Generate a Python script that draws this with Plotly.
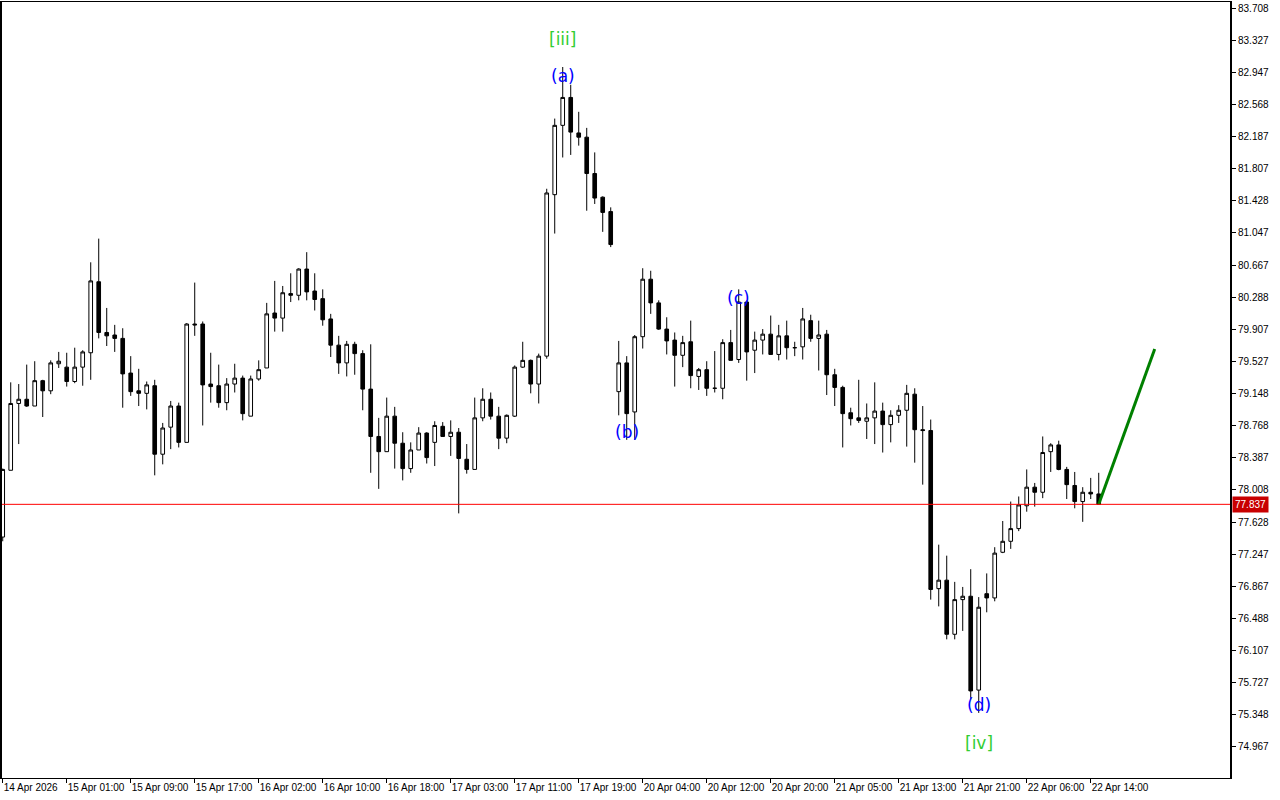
import plotly.graph_objects as go

# Hourly bars (index 0..137)
opens = [77.45, 78.24, 79.03, 79.08, 79.00, 79.30, 79.18, 79.50, 79.46, 79.29,
         79.46, 79.63, 80.47, 79.87, 79.84, 79.80, 79.39, 79.18, 79.15, 79.24,
         78.43, 78.75, 79.00, 78.57, 79.97, 79.97, 79.26, 79.24, 79.04, 79.26,
         79.33, 78.88, 79.32, 79.45, 80.10, 80.04, 80.33, 80.31, 80.62, 80.36,
         80.27, 80.03, 79.72, 79.51, 79.73, 79.62, 79.20, 78.64, 78.46, 78.88,
         78.56, 78.26, 78.48, 78.68, 78.57, 78.76, 78.64, 78.69, 78.37, 78.25,
         78.86, 79.08, 78.88, 78.62, 78.88, 79.46, 79.54, 79.26, 79.59, 81.50,
         82.32, 82.65, 82.23, 82.18, 81.75, 81.47, 81.30, 79.17, 79.51, 78.93,
         79.82, 80.50, 80.22, 79.91, 79.78, 79.60, 79.76, 79.35, 79.43, 79.21,
         79.21, 79.75, 79.55, 80.23, 79.66, 79.78, 79.85, 79.61, 79.83, 79.69,
         79.70, 80.01, 79.80, 79.85, 79.37, 79.22, 78.92, 78.86, 78.82, 78.86,
         78.94, 78.78, 78.89, 78.95, 79.14, 78.72, 78.71, 76.84, 76.94, 76.30,
         76.71, 76.75, 75.64, 76.78, 76.73, 77.27, 77.40, 77.55, 77.82, 78.04,
         77.98, 78.46, 78.54, 78.25, 78.06, 77.87, 77.98, 77.96]
highs = [78.26, 79.28, 79.26, 79.49, 79.53, 79.31, 79.54, 79.64, 79.63, 79.69,
         79.66, 80.70, 80.98, 80.16, 79.96, 79.92, 79.59, 79.44, 79.29, 79.31,
         78.80, 79.06, 79.04, 79.98, 80.46, 80.00, 79.63, 79.49, 79.33, 79.50,
         79.36, 79.36, 79.54, 80.22, 80.48, 80.42, 80.57, 80.63, 80.82, 80.57,
         80.38, 80.09, 79.83, 79.77, 79.76, 79.66, 79.73, 78.86, 79.10, 78.99,
         78.69, 78.57, 78.75, 78.69, 78.82, 78.81, 78.83, 78.74, 78.55, 79.10,
         79.21, 79.16, 78.99, 78.90, 79.48, 79.76, 79.55, 79.62, 81.57, 82.40,
         83.01, 82.80, 82.48, 82.29, 82.00, 81.48, 81.35, 79.77, 79.59, 79.84,
         80.63, 80.60, 80.25, 80.05, 79.87, 79.83, 80.01, 79.45, 79.53, 79.65,
         79.79, 79.90, 80.38, 80.25, 79.88, 79.91, 80.07, 79.96, 80.01, 79.76,
         80.16, 80.08, 80.01, 79.90, 79.44, 79.24, 78.98, 79.31, 79.03, 79.28,
         79.04, 78.95, 79.01, 79.25, 79.21, 79.00, 78.84, 77.36, 77.23, 76.92,
         76.86, 77.07, 76.74, 77.02, 77.33, 77.64, 77.87, 77.93, 78.25, 78.09,
         78.64, 78.56, 78.59, 78.28, 78.22, 78.04, 78.15, 78.21]
lows = [77.40, 78.24, 78.55, 78.99, 79.00, 78.87, 79.14, 79.45, 79.23, 79.27,
        79.24, 79.31, 79.80, 79.71, 79.64, 78.98, 79.12, 79.00, 78.96, 78.18,
        78.31, 78.49, 78.51, 78.57, 79.83, 78.77, 79.04, 78.98, 78.95, 79.16,
        78.83, 78.88, 79.30, 79.45, 79.88, 79.88, 80.23, 80.25, 80.25, 80.13,
        79.95, 79.58, 79.38, 79.35, 79.37, 78.95, 78.21, 78.02, 78.46, 78.26,
        78.12, 78.21, 78.48, 78.32, 78.29, 78.64, 78.41, 77.73, 78.20, 78.25,
        78.82, 78.84, 78.49, 78.56, 78.87, 79.45, 79.15, 79.03, 79.56, 81.04,
        81.94, 81.97, 82.08, 81.31, 81.39, 81.06, 80.88, 78.89, 78.60, 78.60,
        79.68, 80.09, 79.90, 79.61, 79.23, 79.46, 79.21, 79.19, 79.12, 79.16,
        79.08, 79.54, 79.51, 79.30, 79.39, 79.61, 79.61, 79.54, 79.55, 79.59,
        79.55, 79.76, 79.42, 79.13, 79.00, 78.51, 78.77, 78.80, 78.61, 78.55,
        78.45, 78.57, 78.80, 78.52, 78.33, 78.07, 76.71, 76.63, 76.24, 76.24,
        76.34, 75.53, 75.37, 76.56, 76.69, 77.26, 77.31, 77.52, 77.75, 77.81,
        77.91, 78.22, 78.24, 77.90, 77.79, 77.63, 77.90, 77.837]
closes = [78.25, 79.03, 79.08, 79.00, 79.30, 79.18, 79.51, 79.53, 79.29, 79.46,
          79.64, 80.48, 79.87, 79.83, 79.80, 79.38, 79.17, 79.15, 79.25, 78.43,
          78.74, 79.00, 78.57, 79.97, 79.96, 79.25, 79.23, 79.04, 79.26, 79.33,
          78.91, 79.32, 79.43, 80.09, 80.04, 80.34, 80.31, 80.62, 80.35, 80.26,
          80.02, 79.72, 79.51, 79.73, 79.62, 79.20, 78.64, 78.46, 78.88, 78.56,
          78.26, 78.48, 78.68, 78.39, 78.77, 78.64, 78.69, 78.38, 78.25, 78.86,
          79.08, 78.88, 78.62, 78.89, 79.46, 79.54, 79.26, 79.59, 81.52, 82.32,
          82.65, 82.24, 82.18, 81.75, 81.46, 81.29, 80.91, 79.51, 78.91, 79.82,
          80.50, 80.22, 79.91, 79.77, 79.60, 79.75, 79.36, 79.43, 79.21, 79.21,
          79.75, 79.54, 80.23, 79.64, 79.78, 79.85, 79.61, 79.83, 79.69, 79.69,
          80.03, 79.80, 79.84, 79.37, 79.22, 78.91, 78.85, 78.83, 78.86, 78.94,
          78.78, 78.89, 78.95, 79.15, 78.72, 78.71, 76.83, 76.94, 76.30, 76.71,
          76.75, 75.63, 76.62, 76.73, 77.26, 77.40, 77.55, 77.83, 78.04, 77.98,
          78.45, 78.54, 78.25, 78.07, 77.87, 77.98, 77.96, 77.837]

bars = list(range(len(opens)))

x_tick_bars = [0, 8, 16, 24, 32, 40, 48, 56, 64, 72, 80, 88, 96, 104, 112, 120, 128, 136]
x_tick_labels = ["14 Apr 2026", "15 Apr 01:00", "15 Apr 09:00", "15 Apr 17:00",
                 "16 Apr 02:00", "16 Apr 10:00", "16 Apr 18:00", "17 Apr 03:00",
                 "17 Apr 11:00", "17 Apr 19:00", "20 Apr 04:00", "20 Apr 12:00",
                 "20 Apr 20:00", "21 Apr 05:00", "21 Apr 13:00", "21 Apr 21:00",
                 "22 Apr 06:00", "22 Apr 14:00"]
y_tick_labels = ["83.708", "83.327", "82.947", "82.568", "82.187", "81.807",
                 "81.428", "81.047", "80.667", "80.288", "79.907", "79.527",
                 "79.148", "78.768", "78.387", "78.008", "77.628", "77.247",
                 "76.867", "76.488", "76.107", "75.727", "75.348", "74.967"]
current_price = 77.837

# forecast line: from last close to target
forecast_bars = [137, 144]
forecast_prices = [77.837, 79.675]

# wave labels
wave_text = ["[iii]", "(a)", "(b)", "(c)", "(d)", "[iv]"]
wave_bar = [70, 70, 78, 92, 122, 122]
wave_price = [83.341, 82.904, 78.693, 80.278, 75.464, 75.014]
wave_color = ["#32cd32", "#0000ff", "#0000ff", "#0000ff", "#0000ff", "#32cd32"]

FONT = "Liberation Sans"

fig = go.Figure()
fig.add_trace(go.Candlestick(
    x=bars, open=opens, high=highs, low=lows, close=closes,
    increasing=dict(line=dict(color="black", width=1), fillcolor="white"),
    decreasing=dict(line=dict(color="black", width=1), fillcolor="black"),
    whiskerwidth=0, showlegend=False, hoverinfo="skip",
))
fig.add_trace(go.Scatter(
    x=forecast_bars, y=forecast_prices, mode="lines",
    line=dict(color="#008000", width=3), showlegend=False, hoverinfo="skip",
))

for t, b, p, c in zip(wave_text, wave_bar, wave_price, wave_color):
    fig.add_annotation(x=b, y=p, text=t, showarrow=False, xref="x", yref="y",
                       font=dict(family="DejaVu Sans", size=17, color=c))

fig.add_shape(type="line", xref="paper", x0=0, x1=1, yref="y",
              y0=current_price, y1=current_price, line=dict(color="red", width=1))
fig.add_annotation(xref="paper", x=1.0, xanchor="left", xshift=2, yref="y",
                   y=current_price, text=f"{current_price:.3f}", showarrow=False,
                   bgcolor="#c80000", font=dict(family=FONT, size=10, color="white"),
                   borderpad=2)

fig.update_layout(
    width=1280, height=800,
    margin=dict(l=2, r=50, t=2, b=22, autoexpand=False),
    paper_bgcolor="white", plot_bgcolor="white",
    boxgap=0.35,
    xaxis=dict(
        range=[-0.09, 153.41], rangeslider=dict(visible=False),
        tickmode="array", tickvals=x_tick_bars, ticktext=x_tick_labels,
        ticks="outside", ticklen=4, tickcolor="black", tickangle=0,
        ticklabelposition="outside right", automargin=False,
        showgrid=False, zeroline=False,
        showline=True, linecolor="black", linewidth=1, mirror=True,
        tickfont=dict(family=FONT, size=10, color="black"),
    ),
    yaxis=dict(
        side="right", range=[74.600, 83.779], automargin=False,
        tickmode="array", tickvals=[float(v) for v in y_tick_labels], ticktext=y_tick_labels,
        ticks="outside", ticklen=4, tickcolor="black",
        showgrid=False, zeroline=False,
        showline=True, linecolor="black", linewidth=2, mirror=True,
        tickfont=dict(family=FONT, size=10, color="black"),
    ),
)

fig.write_html(
    "out.html",
    config={"displayModeBar": False},
    post_script="document.body.style.margin='0';document.body.style.overflow='hidden';",
)
